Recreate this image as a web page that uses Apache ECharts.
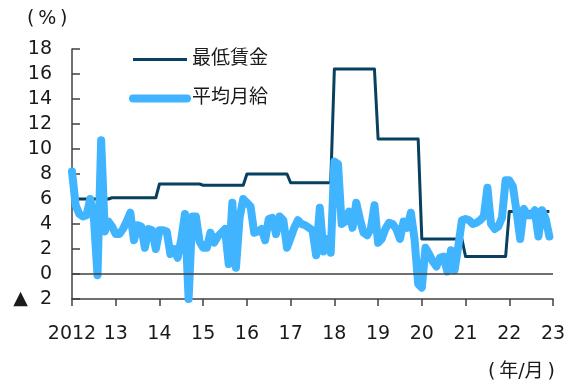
<!DOCTYPE html>
<html>
<head>
<meta charset="utf-8">
<script src="https://cdn.jsdelivr.net/npm/echarts/dist/echarts.min.js"></script>
<style>
  html, body { margin: 0; padding: 0; background: #fff; }
  #chart { width: 573px; height: 385px; }
</style>
</head>
<body>
<div id="chart"></div>
<script>
// Monthly series, January 2012 through December 2022 (year-on-year change, %)
const startYear = 2012;

const seriesNames = ['最低賃金', '平均月給'];

const minWage = [
  6.0, 6.0, 6.0, 6.0, 6.0, 6.0, 6.0, 6.0, 6.0, 6.0, 6.0, 6.1,
  6.1, 6.1, 6.1, 6.1, 6.1, 6.1, 6.1, 6.1, 6.1, 6.1, 6.1, 6.1,
  7.2, 7.2, 7.2, 7.2, 7.2, 7.2, 7.2, 7.2, 7.2, 7.2, 7.2, 7.2,
  7.1, 7.1, 7.1, 7.1, 7.1, 7.1, 7.1, 7.1, 7.1, 7.1, 7.1, 7.1,
  8.0, 8.0, 8.0, 8.0, 8.0, 8.0, 8.0, 8.0, 8.0, 8.0, 8.0, 8.0,
  7.3, 7.3, 7.3, 7.3, 7.3, 7.3, 7.3, 7.3, 7.3, 7.3, 7.3, 7.3,
  16.4, 16.4, 16.4, 16.4, 16.4, 16.4, 16.4, 16.4, 16.4, 16.4, 16.4, 16.4,
  10.8, 10.8, 10.8, 10.8, 10.8, 10.8, 10.8, 10.8, 10.8, 10.8, 10.8, 10.8,
  2.8, 2.8, 2.8, 2.8, 2.8, 2.8, 2.8, 2.8, 2.8, 2.8, 2.8, 2.8,
  1.4, 1.4, 1.4, 1.4, 1.4, 1.4, 1.4, 1.4, 1.4, 1.4, 1.4, 1.4,
  5.0, 5.0, 5.0, 5.0, 5.0, 5.0, 5.0, 5.0, 5.0, 5.0, 5.0, 5.0
];

const avgWage = [
  8.2, 5.5, 4.8, 4.6, 4.7, 6.0, 4.5, -0.1, 10.7, 3.4, 4.2, 3.8,
  3.2, 3.2, 3.6, 4.2, 4.9, 2.7, 3.9, 3.8, 2.1, 3.6, 3.5, 2.0,
  3.5, 3.5, 3.4, 1.6, 2.0, 1.3, 2.8, 4.8, -2.0, 4.6, 4.6, 2.6,
  2.1, 2.1, 3.3, 2.5, 3.0, 3.3, 3.6, 0.8, 5.7, 0.5, 4.5, 6.0,
  5.7, 5.4, 3.3, 3.4, 3.6, 2.7, 4.4, 4.5, 3.2, 4.6, 4.3, 2.1,
  2.9, 3.7, 4.3, 4.0, 3.9, 3.7, 3.5, 1.5, 5.3, 1.8, 2.8, 1.7,
  9.0, 8.8, 4.0, 4.2, 5.0, 3.7, 5.7, 4.4, 3.3, 3.1, 3.6, 5.5,
  2.5, 2.8, 3.6, 4.1, 4.0, 3.6, 2.8, 4.2, 3.7, 4.9, 2.8, -0.8,
  -1.1, 2.1, 1.6, 1.0, 0.6, 1.3, 1.4, 0.2, 1.9, 0.3, 2.2, 4.3,
  4.4, 4.3, 4.0, 4.1, 4.3, 4.6, 6.9, 4.0, 3.6, 3.8, 4.5, 7.5,
  7.5, 7.0, 5.0, 2.8, 5.2, 4.7, 4.7, 5.1, 3.0, 5.1, 4.4, 3.0
];

const xTickLabels = ['2012', '13', '14', '15', '16', '17', '18', '19', '20', '21', '22', '23'];
const yTickValues = [-2, 0, 2, 4, 6, 8, 10, 12, 14, 16, 18];
const yTickLabels = ['▲  2', '0', '2', '4', '6', '8', '10', '12', '14', '16', '18'];

const NAVY = '#07415f';
const SKY = '#41b4ff';
const AXIS = '#404040';
const TEXT = '#1a1a1a';
const FONT = "'DejaVu Sans', 'Noto Sans CJK JP', sans-serif";

// month index -> fractional year on the value axis
const toPoints = vals => vals.map((v, i) => [startYear + i / 12, v]);

const chart = echarts.init(document.getElementById('chart'));

chart.setOption({
  animation: false,
  textStyle: { fontFamily: FONT, color: TEXT },
  grid: { left: 72, right: 20, top: 49, bottom: 86, containLabel: false },
  legend: {
    orient: 'vertical',
    left: 129,
    top: 50,
    padding: 0,
    itemWidth: 54,
    itemHeight: 20,
    itemGap: 20,
    textStyle: { fontFamily: FONT, fontSize: 19, color: TEXT },
    data: [
      { name: seriesNames[0], lineStyle: { width: 3, color: NAVY }, itemStyle: { opacity: 0 } },
      { name: seriesNames[1], lineStyle: { width: 8, color: SKY, cap: 'round' }, itemStyle: { opacity: 0 } }
    ]
  },
  graphic: [
    { type: 'text', left: 27, top: 10, style: { text: '(\u2009%\u2009)', fontFamily: FONT, fontSize: 19, fill: TEXT } },
    { type: 'text', left: 488, top: 363, style: { text: '(\u2009年/月\u2009)', fontFamily: FONT, fontSize: 19, fill: TEXT } }
  ],
  xAxis: {
    type: 'value',
    min: 2012,
    max: 2023,
    interval: 1,
    axisLine: { onZero: false, lineStyle: { color: AXIS, width: 1.5 } },
    axisTick: { show: true, inside: false, length: 7, lineStyle: { color: AXIS, width: 1.5 } },
    axisLabel: {
      fontFamily: FONT, fontSize: 19, color: TEXT, margin: 26,
      formatter: v => xTickLabels[Math.round(v) - startYear]
    },
    splitLine: { show: false }
  },
  yAxis: {
    type: 'value',
    min: -2,
    max: 18,
    interval: 2,
    axisLine: { show: true, onZero: false, lineStyle: { color: AXIS, width: 1.5 } },
    axisTick: { show: true, inside: true, length: 8, lineStyle: { color: AXIS, width: 1.5 } },
    axisLabel: {
      fontFamily: FONT, fontSize: 19, color: TEXT, margin: 20,
      formatter: v => yTickLabels[yTickValues.indexOf(Math.round(v))]
    },
    splitLine: { show: false }
  },
  series: [
    {
      name: seriesNames[0],
      type: 'line',
      data: toPoints(minWage),
      symbol: 'none',
      showSymbol: false,
      lineStyle: { color: NAVY, width: 3, join: 'round' },
      itemStyle: { color: NAVY },
      z: 2,
      markLine: {
        silent: true,
        symbol: 'none',
        label: { show: false },
        lineStyle: { color: AXIS, width: 1.5, type: 'solid' },
        data: [{ yAxis: 0 }]
      }
    },
    {
      name: seriesNames[1],
      type: 'line',
      data: toPoints(avgWage),
      symbol: 'none',
      showSymbol: false,
      lineStyle: { color: SKY, width: 8, cap: 'round', join: 'round' },
      itemStyle: { color: SKY },
      z: 3
    }
  ]
});
</script>
</body>
</html>
